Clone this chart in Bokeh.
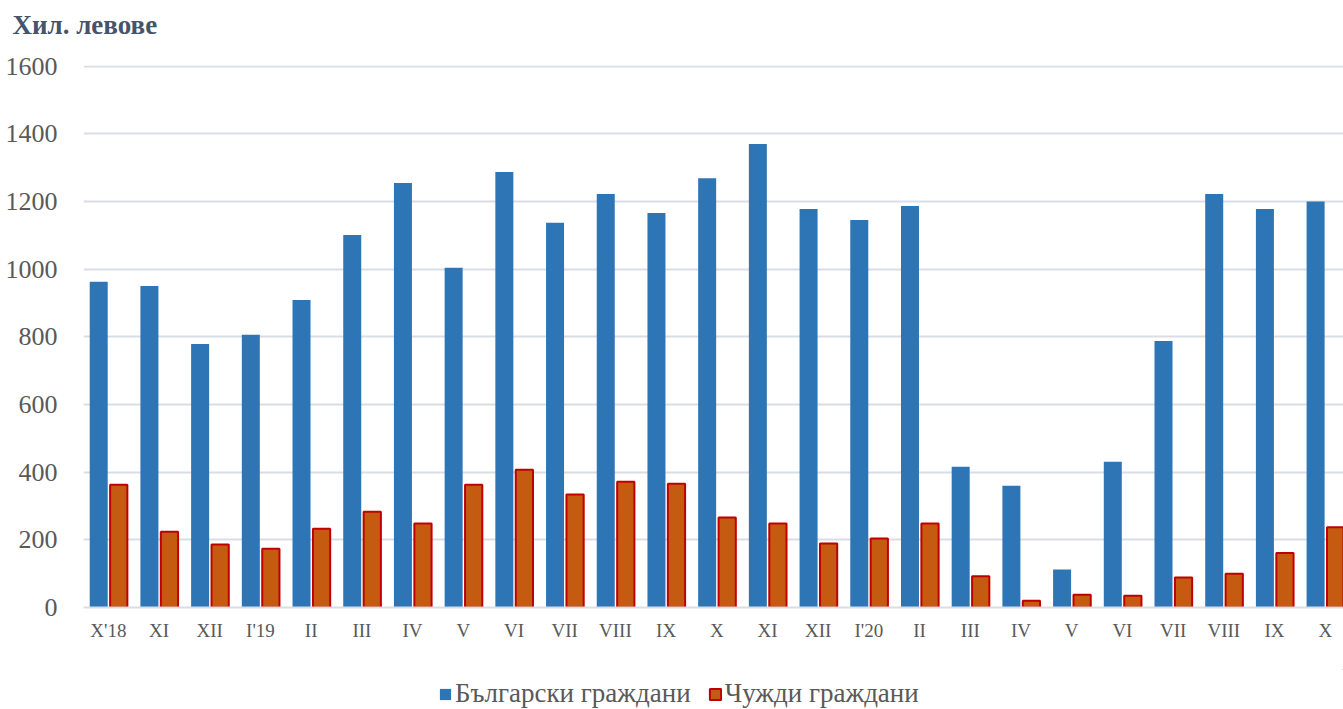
from bokeh.plotting import figure
from bokeh.layouts import column
from bokeh.models import ColumnDataSource, Range1d, FixedTicker, Legend, LegendItem, Title
from bokeh.transform import dodge
from bokeh.embed import file_html
from bokeh.resources import INLINE

months = ["X'18", "XI", "XII", "I'19", "II", "III", "IV", "V", "VI", "VII", "VIII", "IX",
          "X", "XI", "XII", "I'20", "II", "III", "IV", "V", "VI", "VII", "VIII", "IX", "X"]
bulgarian = [963, 950, 779, 806, 909, 1101, 1255, 1004, 1287, 1137, 1222, 1166,
             1269, 1370, 1178, 1145, 1187, 416, 360, 112, 431, 788, 1222, 1178, 1200]
foreign = [363, 224, 186, 174, 233, 283, 248, 363, 407, 334, 372, 366,
           266, 248, 189, 204, 248, 92, 20, 38, 35, 89, 100, 161, 237]
series_names = ["Български граждани", "Чужди граждани"]
y_ticks = [0, 200, 400, 600, 800, 1000, 1200, 1400, 1600]
title_text = "Хил. левове"

BLUE = "#2E75B6"
ORANGE = "#C55A11"
DARKRED = "#C00000"
FONT = "Liberation Serif"
W = 1343


def strip(height, min_top=0):
    f = figure(width=W, height=height, output_backend="svg", toolbar_location=None,
               x_range=Range1d(0, 1), y_range=Range1d(0, 1),
               x_axis_location=None, y_axis_location=None,
               min_border_left=83, min_border_right=0, min_border_top=min_top,
               min_border_bottom=0)
    f.outline_line_color = None
    f.xgrid.grid_line_color = None
    f.ygrid.grid_line_color = None
    return f


# title strip
tf = strip(44, min_top=41)
tt = Title(text=title_text, text_font=FONT, text_font_size="27px",
           text_font_style="bold", text_color="#44546A", align="left",
           offset=-71, standoff=4)
tf.add_layout(tt, "above")

# main chart
idx = list(range(len(months)))
src = ColumnDataSource(dict(x=idx, bg=bulgarian, fg=foreign))

p = figure(width=W, height=625, output_backend="svg", toolbar_location=None,
           x_range=Range1d(-0.49, 24.36), y_range=Range1d(0, 1602),
           min_border_left=83, min_border_right=0, min_border_top=21,
           min_border_bottom=62)
p.outline_line_color = None
p.background_fill_color = "white"

r1 = p.vbar(x=dodge("x", -0.19, range=p.x_range), top="bg", width=0.355, source=src,
            fill_color=BLUE, line_color=None)
r2 = p.vbar(x=dodge("x", 0.205, range=p.x_range), top="fg", width=0.34, source=src,
            fill_color=ORANGE, line_color=DARKRED, line_width=2)

p.xaxis.ticker = FixedTicker(ticks=idx)
p.xaxis.major_label_overrides = {i: m for i, m in zip(idx, months)}
p.xaxis.major_label_text_font = FONT
p.xaxis.major_label_text_font_size = "19px"
p.xaxis.major_label_text_color = "#595959"
p.xaxis.major_tick_line_color = None
p.xaxis.minor_tick_line_color = None
p.xaxis.axis_line_color = "#D9DDE6"
p.xaxis.axis_line_width = 2
p.xaxis.major_label_standoff = 6

p.yaxis.ticker = FixedTicker(ticks=y_ticks)
p.yaxis.major_label_text_font = FONT
p.yaxis.major_label_text_font_size = "26px"
p.yaxis.major_label_text_color = "#595959"
p.yaxis.major_tick_line_color = None
p.yaxis.minor_tick_line_color = None
p.yaxis.axis_line_color = None
p.yaxis.major_label_standoff = 20

p.xgrid.grid_line_color = None
p.ygrid.grid_line_color = "#D9DDE6"
p.ygrid.grid_line_width = 2

# legend strip: swatch renderers whose only row lies far outside the visible range
lf = strip(40)
swatch = ColumnDataSource(dict(x=[50], top=[51], bottom=[50]))
l1 = lf.vbar(x="x", top="top", bottom="bottom", width=0.1, source=swatch,
             fill_color=BLUE, line_color=None)
l2 = lf.vbar(x="x", top="top", bottom="bottom", width=0.1, source=swatch,
             fill_color=ORANGE, line_color=DARKRED, line_width=2)

legend = Legend(items=[LegendItem(label=series_names[0], renderers=[l1]),
                       LegendItem(label=series_names[1], renderers=[l2])],
                orientation="horizontal", location=(355, 0),
                label_text_font=FONT, label_text_font_size="27px",
                label_text_color="#595959", glyph_width=14, glyph_height=14,
                label_standoff=3, spacing=17, border_line_color=None,
                background_fill_alpha=0, margin=0, padding=0)
lf.add_layout(legend, "center")

layout = column(tf, p, lf, spacing=0)
open("out.html", "w").write(file_html(layout, INLINE))
